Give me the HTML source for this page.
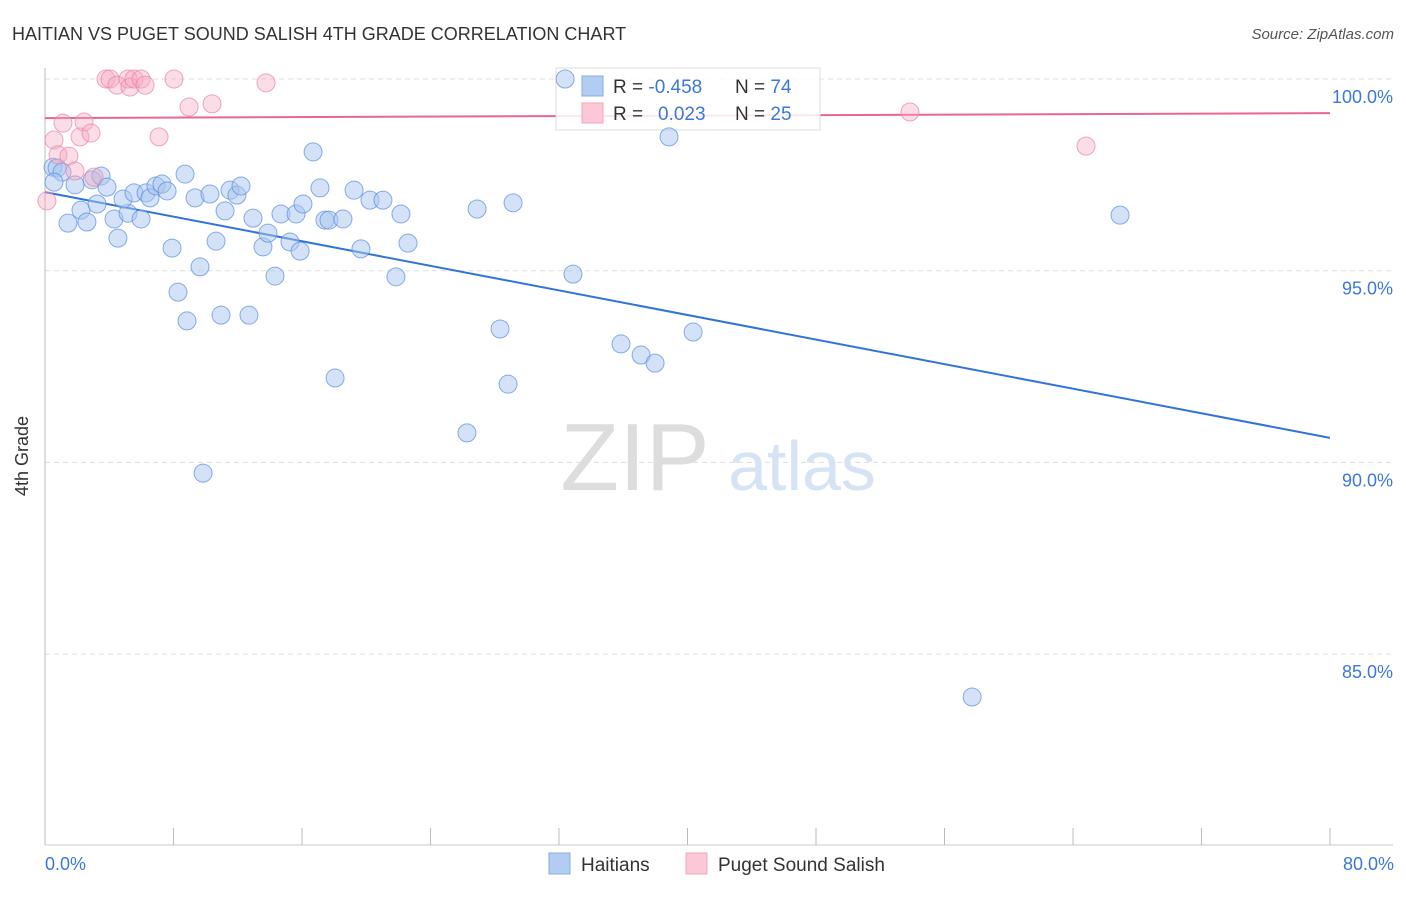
<!DOCTYPE html>
<html><head><meta charset="utf-8"><style>
body{margin:0;background:#fff;font-family:"Liberation Sans",sans-serif}
svg text{font-family:"Liberation Sans",sans-serif}
</style></head><body>
<svg width="1406" height="892">
<text x="12" y="40" font-size="18" fill="#333">HAITIAN VS PUGET SOUND SALISH 4TH GRADE CORRELATION CHART</text>
<text x="1394" y="39" font-size="15" fill="#555" text-anchor="end" font-style="italic">Source: ZipAtlas.com</text>
<g id="grid"></g>
<g>
<text x="635" y="490" font-size="96" fill="#ddd" font-family="Liberation Serif" text-anchor="middle">ZIP</text>
<text x="802" y="490" font-size="70" fill="#d5e3f5" text-anchor="middle">atlas</text>
</g>
<line x1="45" y1="68" x2="45" y2="845" stroke="#bbb"/>
<line x1="45" y1="845" x2="1393" y2="845" stroke="#ccc"/>
<g id="xticks"></g>
<g id="lines"></g>
<g>
<rect x="556" y="68" width="264" height="62" fill="rgba(255,255,255,0.85)" stroke="#ddd"/>
<rect x="582" y="76" width="21" height="20" fill="#b3cdf2" stroke="#86abe3"/>
<rect x="582" y="103" width="21" height="20" fill="#fcc7d6" stroke="#f2a6bd"/>
<text x="613" y="93" font-size="19" fill="#333">R = <tspan fill="#3b78d8">-0.458</tspan></text>
<text x="735" y="93" font-size="19" fill="#333">N = <tspan fill="#3b78d8">74</tspan></text>
<text x="613" y="120" font-size="19" fill="#333">R =  <tspan fill="#3b78d8" x="658">0.023</tspan></text>
<text x="735" y="120" font-size="19" fill="#333">N = <tspan fill="#3b78d8">25</tspan></text>
</g>
<g id="pts"></g>
<text x="28" y="456" font-size="18" fill="#333" transform="rotate(-90 28 456)" text-anchor="middle">4th Grade</text>
<text x="45" y="870" font-size="18" fill="#3b78d8">0.0%</text>
<text x="1394" y="870" font-size="18" fill="#3b78d8" text-anchor="end">80.0%</text>
<g>
<rect x="549" y="853" width="21" height="21" fill="#b3cdf2" stroke="#86abe3"/>
<text x="581" y="871" font-size="19" fill="#333">Haitians</text>
<rect x="686" y="853" width="21" height="21" fill="#fcc7d6" stroke="#f2a6bd"/>
<text x="718" y="871" font-size="19" fill="#333">Puget Sound Salish</text>
</g>
</svg>
<script>
const yTicks=[100,95,90,85];
const yTickLabels=["100.0%","95.0%","90.0%","85.0%"];
const blueX=[0.50,0.75,1.06,0.56,1.87,1.43,2.24,2.61,3.24,2.93,3.49,3.86,4.30,4.54,5.17,4.86,5.54,5.98,6.29,6.54,6.91,7.28,7.60,7.91,8.28,8.72,8.84,9.34,9.65,10.27,10.65,10.96,11.21,11.52,11.95,12.20,12.70,12.95,13.57,13.88,14.32,14.69,15.25,15.63,15.88,16.06,16.69,17.12,17.43,17.68,18.06,18.55,19.24,19.67,20.23,21.04,21.85,22.16,22.60,26.27,26.90,28.33,28.83,29.14,32.38,32.87,35.86,37.11,37.98,38.85,40.35,9.84,57.72,66.93];
const blueY=[97.70,97.68,97.57,97.31,97.24,96.24,96.58,96.27,96.74,97.37,97.47,97.18,96.35,95.85,96.50,96.87,97.03,96.35,97.03,96.90,97.21,97.26,97.08,95.59,94.44,97.52,93.69,96.90,95.10,97.00,95.77,93.84,96.56,97.10,96.97,97.21,93.84,96.37,95.62,95.98,94.86,96.48,95.75,96.48,95.51,96.74,98.10,97.16,96.32,96.32,92.20,96.35,97.10,95.57,96.84,96.84,94.84,96.48,95.72,90.77,96.61,93.48,92.04,96.77,100.0,94.91,93.09,92.80,92.59,98.49,93.40,89.72,83.88,96.45];
const pinkX=[0.12,0.56,0.81,1.12,1.49,1.87,2.18,2.43,2.86,3.05,3.80,4.05,4.48,5.17,5.29,5.54,5.98,6.23,7.10,8.03,8.97,10.40,13.76,53.85,64.81];
const pinkY=[96.82,98.41,98.02,98.85,97.99,97.60,98.49,98.88,98.59,97.44,100,100,99.84,100,99.79,100,100,99.84,98.49,100,99.27,99.35,99.90,99.14,98.25];
const blueTrend=[97.05,90.64];
const pinkTrend=[98.98,99.11];
const X=v=>45+v/80*1285;
const Y=v=>79+(100-v)/5*191.7;
const NS="http://www.w3.org/2000/svg";
function mk(tag,attrs,parent){const e=document.createElementNS(NS,tag);for(const k in attrs)e.setAttribute(k,attrs[k]);document.getElementById(parent).appendChild(e);return e;}
yTicks.forEach((t,i)=>{
 const l=mk('line',{x1:45,x2:1393,y1:Y(t),y2:Y(t),stroke:'#ddd','stroke-dasharray':'5,4'},'grid');
 
 
 const tx=mk('text',{x:1393,y:Y(t)+24,'font-size':18,fill:'#3b78d8','text-anchor':'end'},'grid');
 tx.textContent=yTickLabels[i];
 
 
});
for(let i=0;i<=10;i++){
 const l=mk('line',{x1:X(i*8),x2:X(i*8),y1:828,y2:845,stroke:'#bbb'},'xticks');
 
 
}
blueX.forEach((x,i)=>{
 const c=mk('circle',{cx:X(x),cy:Y(blueY[i]),r:9,fill:'rgba(168,198,240,0.5)',stroke:'rgba(90,140,220,0.7)','stroke-width':1},'pts');
 
 
});
pinkX.forEach((x,i)=>{
 const c=mk('circle',{cx:X(x),cy:Y(pinkY[i]),r:9,fill:'rgba(245,170,195,0.4)',stroke:'rgba(235,130,165,0.7)','stroke-width':1},'pts');
 
 
});
const bl=mk('line',{x1:X(0),x2:X(80),y1:Y(blueTrend[0]),y2:Y(blueTrend[1]),stroke:'#2f74d6','stroke-width':2},'lines');


const pl=mk('line',{x1:X(0),x2:X(80),y1:Y(pinkTrend[0]),y2:Y(pinkTrend[1]),stroke:'#e8668f','stroke-width':2},'lines');


</script>
</body></html>
